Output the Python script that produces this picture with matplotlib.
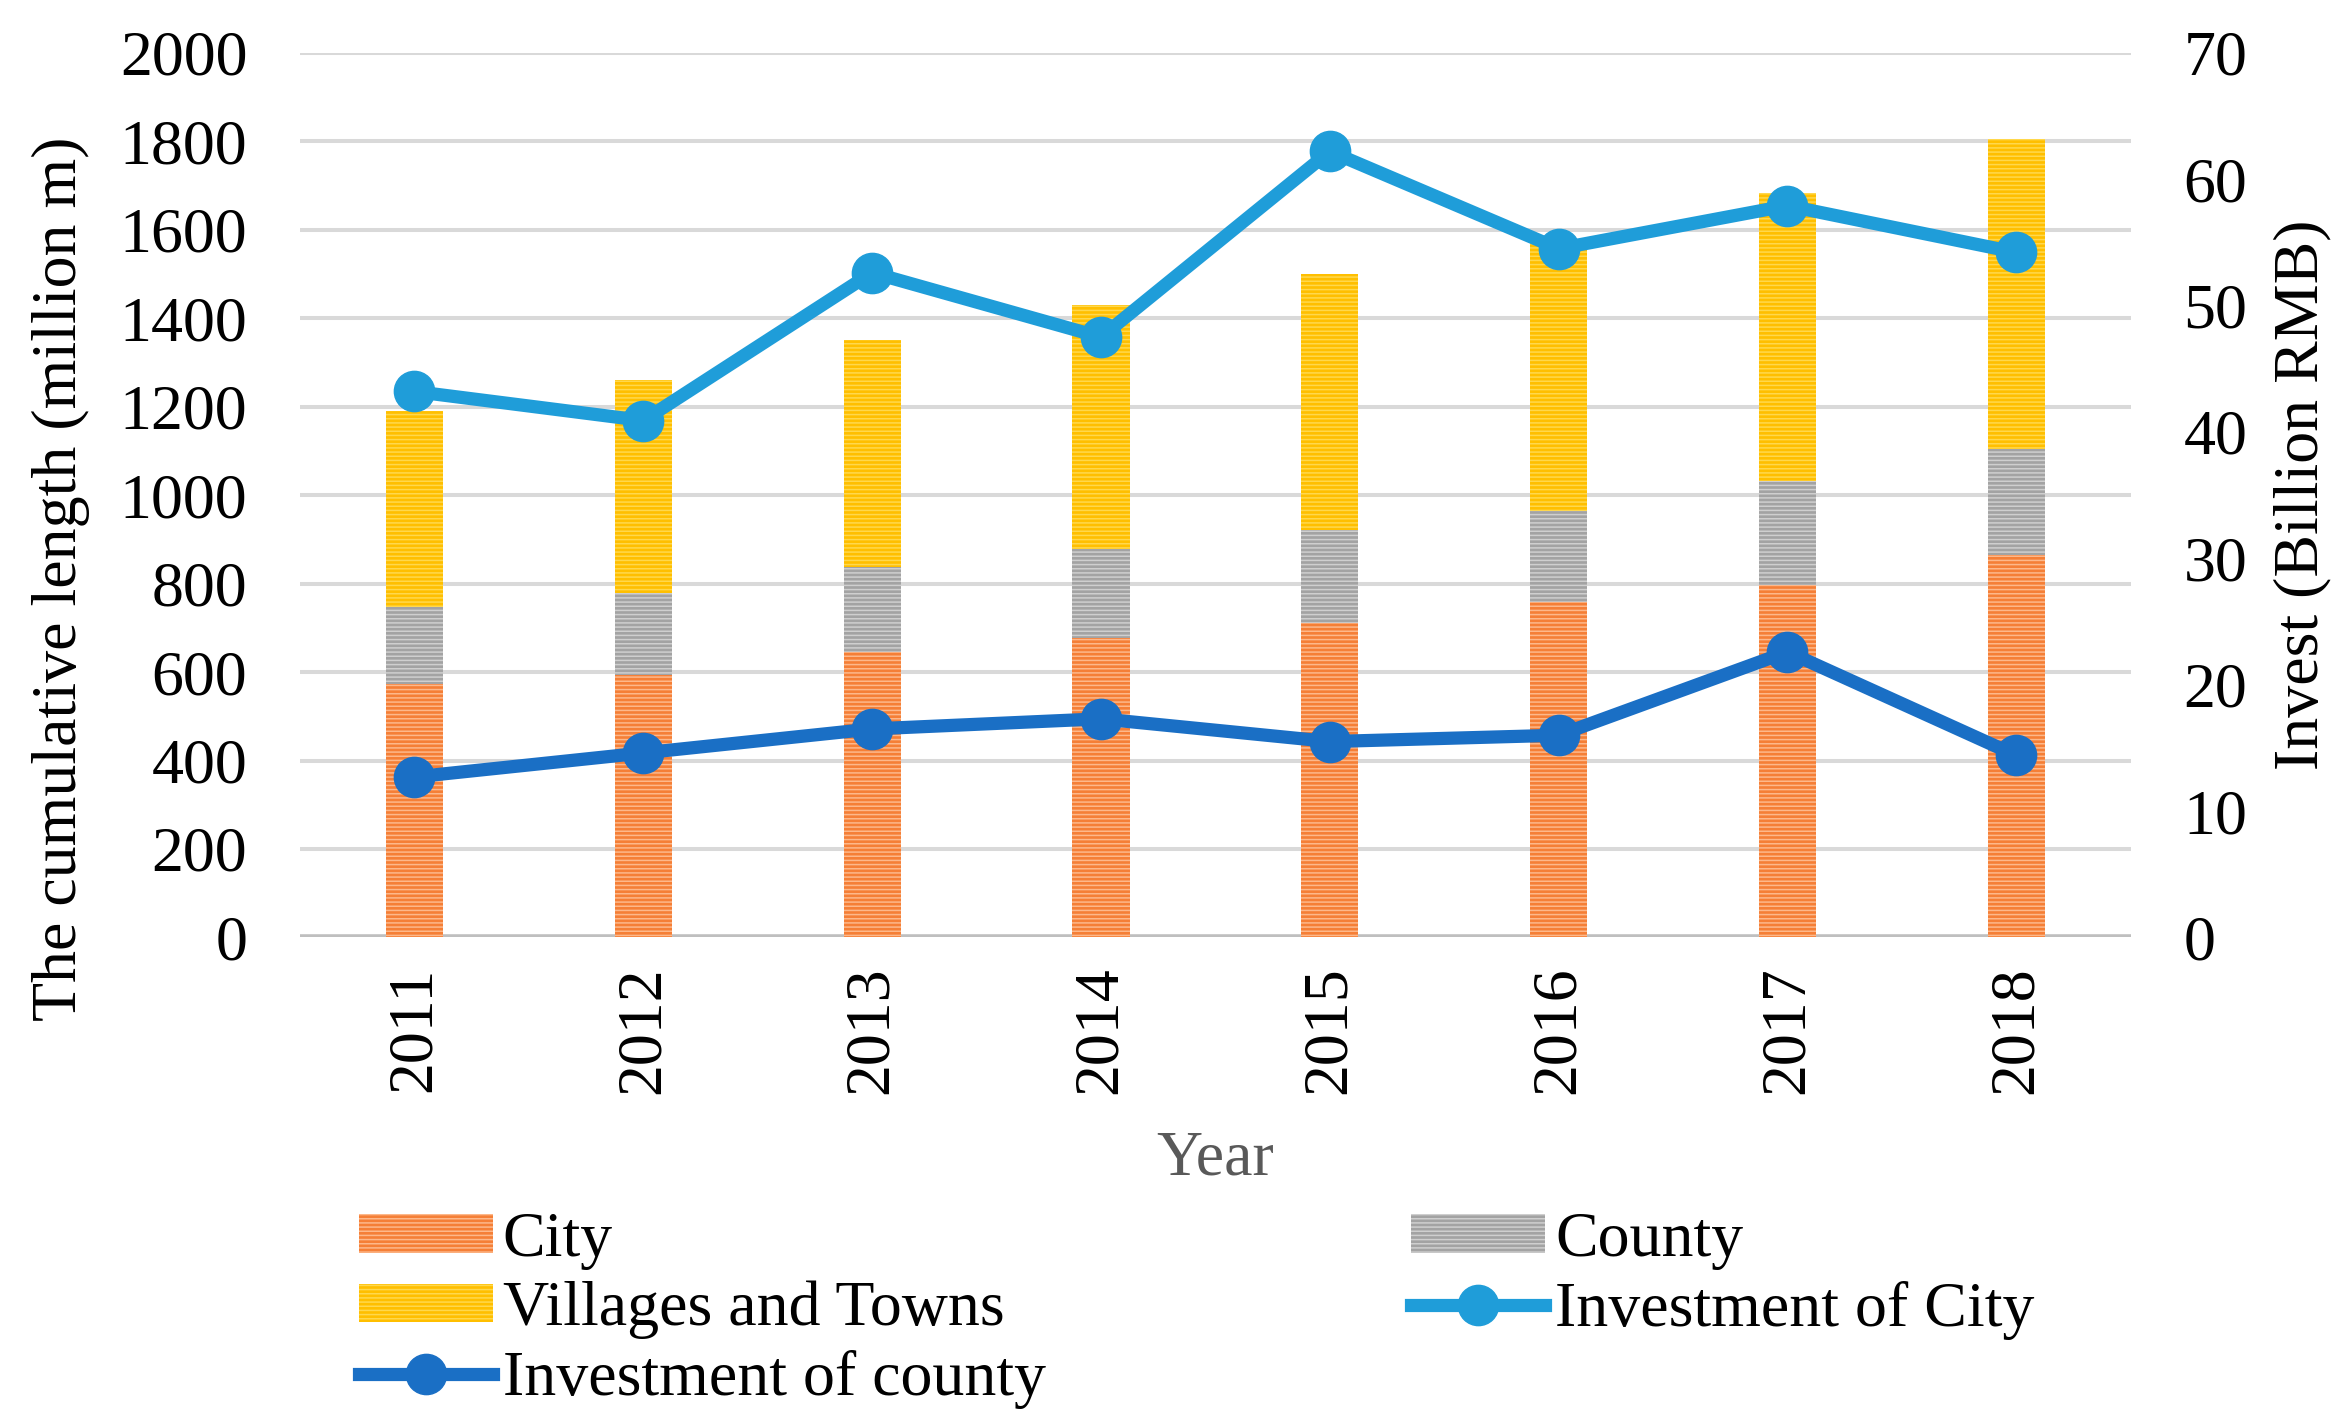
import numpy as np
import matplotlib.pyplot as plt
from matplotlib.lines import Line2D
from matplotlib.patches import Patch

plt.rcParams['font.family'] = ['Liberation Serif', 'DejaVu Serif']
plt.rcParams['hatch.linewidth'] = 1.1

anos = ['2011', '2012', '2013', '2014', '2015', '2016', '2017', '2018']
cidade = [572, 593, 645, 678, 710, 758, 796, 864]
condado = [176, 186, 193, 200, 212, 207, 235, 240]
vilas = [442, 481, 513, 552, 577, 608, 651, 701]
inv_cidade = [43.2, 40.9, 52.6, 47.5, 62.2, 54.5, 57.9, 54.2]
inv_condado = [12.7, 14.6, 16.5, 17.3, 15.5, 16.0, 22.6, 14.4]

cor_cidade, hatch_cidade = '#f57f36', '#fdb88a'
cor_condado, hatch_condado = '#a3a3a3', '#cfcfcf'
cor_vilas, hatch_vilas = '#ffbf00', '#ffd84d'
cor_inv_cidade = '#1f9dd9'
cor_inv_condado = '#1a6fc5'
fs = 46
hatch = '----'

fig = plt.figure(figsize=(23.44, 14.26), dpi=100)
ax = fig.add_axes([0.128, 0.3426, 0.909 - 0.128, 0.963 - 0.3426])
ax2 = ax.twinx()

x = np.arange(len(anos))
w = 0.25
base2 = np.array(cidade)
base3 = base2 + np.array(condado)
ax.bar(x, cidade, w, color=cor_cidade, edgecolor=hatch_cidade, linewidth=0, hatch=hatch, zorder=2)
ax.bar(x, condado, w, bottom=base2, color=cor_condado, edgecolor=hatch_condado, linewidth=0, hatch=hatch, zorder=2)
ax.bar(x, vilas, w, bottom=base3, color=cor_vilas, edgecolor=hatch_vilas, linewidth=0, hatch=hatch, zorder=2)

ax2.plot(x, inv_cidade, color=cor_inv_cidade, lw=9.5, marker='o', ms=29, zorder=3)
ax2.plot(x, inv_condado, color=cor_inv_condado, lw=9.5, marker='o', ms=29, zorder=3)

ax.set_xlim(-0.5, len(anos) - 0.5)
ax.set_ylim(0, 2000)
ax.set_yticks(range(0, 2001, 200))
ax2.set_ylim(0, 70)
ax2.set_yticks(range(0, 71, 10))

ax.grid(axis='y', color='#d9d9d9', lw=2.9, zorder=0)
ax.set_axisbelow(True)
for a in (ax, ax2):
    for s in ['top', 'left', 'right', 'bottom']:
        a.spines[s].set_visible(False)
    a.tick_params(length=0, labelsize=fs, colors='black')
ax.axhline(0, color='#bfbfbf', lw=4, zorder=1)

ax.set_xticks(x)
ax.set_xticklabels(anos, rotation=90)
ax.tick_params(axis='x', pad=21)
ax.tick_params(axis='y', pad=38)
ax2.tick_params(axis='y', pad=38)

ax.set_ylabel('The cumulative length (million m)', fontsize=fs)
ax.yaxis.set_label_coords(-0.115, 0.405)
ax2.set_ylabel('Invest (Billion RMB)', fontsize=fs)
ax2.yaxis.set_label_coords(1.078, 0.5)
ax.set_xlabel('Year', fontsize=fs, color='#595959', labelpad=26)

handles = [
    Patch(facecolor=cor_cidade, edgecolor=hatch_cidade, hatch=hatch, linewidth=0),
    Patch(facecolor=cor_vilas, edgecolor=hatch_vilas, hatch=hatch, linewidth=0),
    Line2D([], [], color=cor_inv_condado, lw=9.5, marker='o', ms=29),
    Patch(facecolor=cor_condado, edgecolor=hatch_condado, hatch=hatch, linewidth=0),
    Line2D([], [], color=cor_inv_cidade, lw=9.5, marker='o', ms=29),
]
labels = ['City', 'Villages and Towns', 'Investment of county', 'County', 'Investment of City']
fig.legend(handles, labels, loc='upper left', bbox_to_anchor=(0.1532, 0.150), ncol=2,
           frameon=False, fontsize=fs, handlelength=2.1, handleheight=0.55,
           handletextpad=0.15, columnspacing=5.72, labelspacing=0.17,
           borderaxespad=0, borderpad=0)

fig.savefig('out.png', dpi=100)
